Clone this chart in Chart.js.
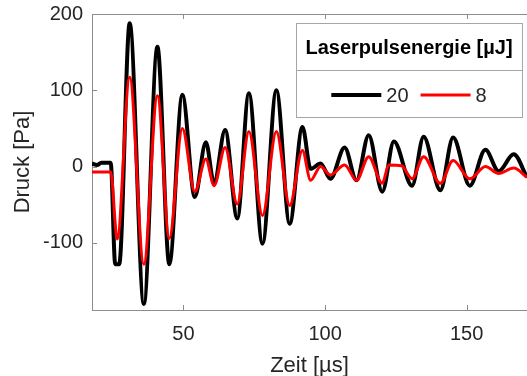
<!DOCTYPE html>
<html>
<head>
<meta charset="utf-8">
<script src="https://cdn.jsdelivr.net/npm/chart.js@4.4.1/dist/chart.umd.min.js"></script>
<style>
  html, body { margin: 0; padding: 0; background: #fff; }
  #wrap { width: 527px; height: 376px; }
</style>
</head>
<body>
<div id="wrap"><canvas id="chart" width="527" height="376"></canvas></div>
<script>
// =========================
// DATA
// =========================

// 20 µJ pulse (black)
const t20 = [17.7, 19.5, 21, 24.3, 25.9, 27.3, 31.0, 36.0, 40.8, 45.0, 49.6, 54.0, 57.9, 60.8,
  64.7, 69.0, 73.1, 77.9, 82.8, 87.5, 92.0, 94.9, 98.4, 101.9, 106.9, 111.1, 115.4, 120.2,
  124.3, 130.7, 134.8, 140.7, 145.2, 151.1, 156.6, 161.3, 166.6, 171.3];
const p20 = [4, 2, 5, 5, -128, -128, 188, -180, 157, -128, 94, -40, 32, -22,
  48, -68, 96, -101, 100, -75, 52, -3, 4, -16, 25, -18, 41, -33,
  33, -25, 39, -31, 38, -25, 22, -6, 16, -14];

// 8 µJ pulse (red)
const t8 = [17.7, 24.3, 26.6, 31.0, 36.0, 40.8, 45.0, 49.6, 54.0, 57.9, 60.8, 64.7, 69.0,
  73.1, 77.9, 82.8, 87.5, 92.0, 94.9, 98.4, 101.9, 106.9, 111.1, 115.4, 120.2, 122.5, 127,
  130.7, 134.8, 140.7, 145.2, 151.1, 156.6, 161.3, 166.6, 171.3];
const p8 = [-7, -7, -95, 117, -128, 93, -94, 50, -33, 10, -25, 25, -49,
  46, -64, 46, -51, 21, -18, 0, -11, 2, -18, 13, -22, 2, 1,
  -16, 13, -22, 8, -16, 0, -9, -2, -14];

const seriesLabels = ["20", "8"];
const legendTitle = "Laserpulsenergie [µJ]";

const xMin = 17.7, xMax = 171.3;
const yMin = -188, yMax = 200;


// =========================
// STYLE
// =========================

const FONT = "'Liberation Sans', Arial, sans-serif";
const TEXT = "#262626";
const AXIS = "#8c8c8c";

function toPoints(xs, ys) {
  return xs.map((x, i) => ({ x, y: ys[i] }));
}


// =========================
// BOX, INWARD TICKS, LEGEND
// =========================

const boxPlugin = {
  id: "box",
  beforeDatasetsDraw(chart) {
    const { ctx, chartArea: a, scales } = chart;
    ctx.save();
    ctx.strokeStyle = AXIS;
    ctx.lineWidth = 1;
    ctx.beginPath();
    ctx.moveTo(a.left, a.top + 0.5);
    ctx.lineTo(a.right, a.top + 0.5);
    scales.x.ticks.forEach(t => {
      const px = Math.round(scales.x.getPixelForValue(t.value)) + 0.5;
      ctx.moveTo(px, a.bottom);
      ctx.lineTo(px, a.bottom - 5);
      ctx.moveTo(px, a.top);
      ctx.lineTo(px, a.top + 5);
    });
    scales.y.ticks.forEach(t => {
      const py = Math.round(scales.y.getPixelForValue(t.value)) + 0.5;
      ctx.moveTo(a.left, py);
      ctx.lineTo(a.left + 5, py);
    });
    ctx.stroke();
    ctx.restore();
  },
  afterDraw(chart) {
    const { ctx } = chart;
    const bx = 296, by = 23, bw = 226, bh = 94;
    ctx.save();
    ctx.fillStyle = "#fff";
    ctx.fillRect(bx, by, bw, bh);
    ctx.strokeStyle = "#a6a6a6";
    ctx.lineWidth = 1;
    ctx.strokeRect(bx + 0.5, by + 0.5, bw, bh);
    ctx.beginPath();
    ctx.moveTo(bx, by + 47.5);
    ctx.lineTo(bx + bw, by + 47.5);
    ctx.stroke();

    ctx.fillStyle = "#000";
    ctx.textAlign = "center";
    ctx.textBaseline = "middle";
    ctx.font = "bold 20px " + FONT;
    ctx.fillText(legendTitle, bx + bw / 2, by + 25);

    // entries
    ctx.font = "20px " + FONT;
    const lineLen = 50, gapText = 5, gapItem = 12;
    const items = chart.data.datasets.map(ds => ({
      ds, w: lineLen + gapText + ctx.measureText(ds.label).width
    }));
    const total = items.reduce((s, it) => s + it.w, 0) + gapItem * (items.length - 1);
    let x = bx + bw / 2 - total / 2;
    const y = by + 72;
    ctx.textAlign = "left";
    items.forEach(it => {
      ctx.strokeStyle = it.ds.borderColor;
      ctx.lineWidth = it.ds.borderWidth;
      ctx.beginPath();
      ctx.moveTo(x, y);
      ctx.lineTo(x + lineLen, y);
      ctx.stroke();
      ctx.fillStyle = TEXT;
      ctx.fillText(it.ds.label, x + lineLen + gapText, y + 1);
      x += it.w + gapItem;
    });
    ctx.restore();
  }
};


// =========================
// CHART
// =========================

new Chart(document.getElementById("chart").getContext("2d"), {
  type: "line",
  data: {
    datasets: [
      {
        label: seriesLabels[0],
        data: toPoints(t20, p20),
        borderColor: "#000000",
        borderWidth: 4,
        order: 2
      },
      {
        label: seriesLabels[1],
        data: toPoints(t8, p8),
        borderColor: "#ff0000",
        borderWidth: 3,
        order: 1
      }
    ]
  },
  options: {
    responsive: false,
    animation: false,
    parsing: false,
    elements: {
      point: { radius: 0 },
      line: { cubicInterpolationMode: "monotone", fill: false }
    },
    layout: { padding: { top: 9, right: 0, left: 0, bottom: 0 } },
    plugins: {
      legend: { display: false },
      tooltip: { enabled: false }
    },
    scales: {
      x: {
        type: "linear",
        min: xMin,
        max: xMax,
        afterFit: s => { s.height = 66; },
        grid: { drawOnChartArea: false, drawTicks: false },
        border: { color: AXIS },
        ticks: {
          stepSize: 50,
          includeBounds: false,
          color: TEXT,
          font: { family: FONT, size: 20 },
          padding: 12,
          maxRotation: 0
        },
        title: {
          display: true,
          text: "Zeit [µs]",
          color: TEXT,
          font: { family: FONT, size: 22 },
          padding: { top: 0, bottom: -3 }
        }
      },
      y: {
        type: "linear",
        min: yMin,
        max: yMax,
        afterFit: s => { s.width = 92; },
        grid: { drawOnChartArea: false, drawTicks: false },
        border: { color: AXIS },
        ticks: {
          stepSize: 100,
          includeBounds: false,
          color: TEXT,
          // small lineHeight keeps Chart.js from reserving extra room above "200"
          font: { family: FONT, size: 20, lineHeight: 0.5 },
          padding: 9
        },
        title: {
          display: true,
          text: "Druck [Pa]",
          color: TEXT,
          font: { family: FONT, size: 22 },
          padding: { top: 10, bottom: 0 }
        }
      }
    }
  },
  plugins: [boxPlugin]
});
</script>
</body>
</html>
